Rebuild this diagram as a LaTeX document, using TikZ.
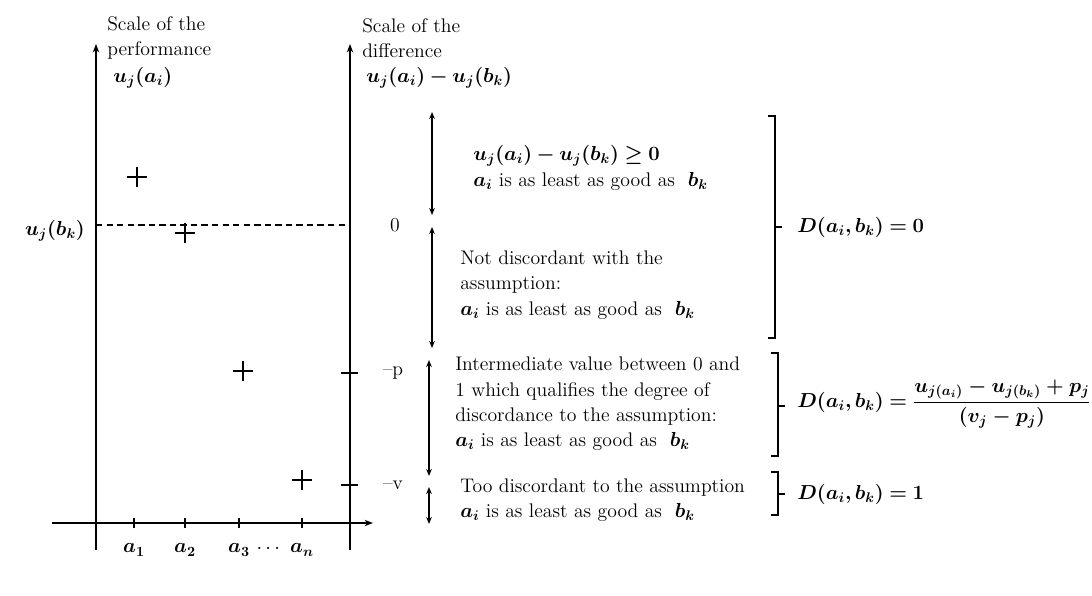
\documentclass[tikz,border=0pt]{standalone}
\usepackage{amsmath,amssymb,bm}
\usepackage{tikz}
\usetikzlibrary{arrows.meta,positioning}

\begin{document}
\begin{tikzpicture}[x=0.025cm, y=-0.025cm,
  axis/.style={-{Stealth[length=6pt,width=4.5pt]}, line width=1.2pt},
  span/.style={{Stealth[length=5pt,width=4pt]}-{Stealth[length=5pt,width=4pt]}, line width=0.9pt},
  note/.style={anchor=west, align=left, inner sep=0pt, font=\fontsize{14}{18}\selectfont},
  lbl/.style={inner sep=0pt, font=\fontsize{14}{18}\selectfont},
  brkt/.style={line width=1pt},
  tk/.style={line width=1pt},
  cross/.style={line width=2pt}
]
\useasboundingbox (0,0) rectangle (1092,595);

% axes
\coordinate (o1) at (96,550);
\coordinate (y1) at (96,44);
\coordinate (o2) at (350,550);
\coordinate (y2) at (350,44);
\coordinate (x0) at (52,523);
\coordinate (x1) at (373,523);
\draw[axis] (o1) -- (y1);
\draw[axis] (o2) -- (y2);
\draw[axis] (x0) -- (x1);

\node[note] (perf) at (107,38) {Scale of the\\performance};
\node[note] (uai) at (113,78) {$\bm{u_j(a_i)}$};
\node[note] (diff) at (362,38) {Scale of the\\difference};
\node[note] (udiff) at (366,78) {$\bm{u_j(a_i)-u_j(b_k)}$};

% alternatives on the x axis
\foreach \tx/\tn in {134/1,185/2,239/3,302/n} {
  \coordinate (k\tn) at (\tx,523);
  \draw[tk] (k\tn) ++(0,-5) -- ++(0,10);
  \node[lbl] (a\tn) at (\tx,550) {$\bm{a_{\tn}}$};
}
\node[lbl] (dots) at (270,549) {$\cdots$};

% performances
\foreach \px/\py in {137/177,185/233,243/371,302/480}
  \draw[cross] (\px-10,\py) -- (\px+10,\py) (\px,\py-10) -- (\px,\py+10);

% reference level
\coordinate (d0) at (96,225);
\coordinate (d1) at (350,225);
\draw[dash pattern=on 4.5pt off 3pt, line width=0.9pt] (d0) -- (d1);
\node[lbl] (ubk) at (55,231) {$\bm{u_j(b_k)}$};

% thresholds
\coordinate (pth) at (350,373);
\coordinate (vth) at (350,485);
\draw[tk] (pth) ++(-9,0) -- ++(17,0);
\draw[tk] (vth) ++(-9,0) -- ++(17,0);
\node[lbl] (zero) at (395,225) {0};
\node[lbl] (pl) at (393,373) {--p};
\node[lbl] (vl) at (393,485) {--v};

% zones
\coordinate (s1a) at (432,112);
\coordinate (s1b) at (432,215);
\coordinate (s2a) at (432,227);
\coordinate (s2b) at (432,348);
\coordinate (s3a) at (429,360);
\coordinate (s3b) at (429,476);
\coordinate (s4a) at (429,487);
\coordinate (s4b) at (429,524);
\draw[span] (s1a) -- (s1b);
\draw[span] (s2a) -- (s2b);
\draw[span] (s3a) -- (s3b);
\draw[span] (s4a) -- (s4b);

\node[note] (z1) at (473,168) {$\bm{u_j(a_i)-u_j(b_k)\geq 0}$\\$\bm{a_i}$ is as least as good as \ $\bm{b_k}$};
\node[note] (z2) at (460,285) {Not discordant with the\\assumption:\\$\bm{a_i}$ is as least as good as \ $\bm{b_k}$};
\node[note] (z3) at (455,404) {Intermediate value between 0 and\\1 which qualifies the degree of\\discordance to the assumption:\\$\bm{a_i}$ is as least as good as \ $\bm{b_k}$};
\node[note] (z4) at (460,500) {Too discordant to the assumption\\$\bm{a_i}$ is as least as good as \ $\bm{b_k}$};

% brackets
\coordinate (b1t) at (775,116);
\coordinate (b1b) at (775,338);
\coordinate (b1m) at (775,227);
\coordinate (b2t) at (778,353);
\coordinate (b2b) at (778,456);
\coordinate (b2m) at (778,406);
\coordinate (b3t) at (778,472);
\coordinate (b3b) at (778,515);
\coordinate (b3m) at (778,494);
\draw[brkt] (b1t) ++(-7,0) -- (b1t) -- (b1b) -- ++(-7,0);
\draw[brkt] (b2t) ++(-7,0) -- (b2t) -- (b2b) -- ++(-7,0);
\draw[brkt] (b3t) ++(-7,0) -- (b3t) -- (b3b) -- ++(-7,0);
\draw[brkt] (b1m) -- ++(7,0);
\draw[brkt] (b2m) -- ++(7,0);
\draw[brkt] (b3m) -- ++(7,0);

\node[note] (D1) at (797,227) {$\bm{D(a_i,b_k)=0}$};
\node[note] (D2) at (797,404) {$\bm{D(a_i,b_k)=\dfrac{u_{j(a_i)}-u_{j(b_k)}+p_j}{(v_j-p_j)}}$};
\node[note] (D3) at (797,494) {$\bm{D(a_i,b_k)=1}$};
\end{tikzpicture}
\end{document}
